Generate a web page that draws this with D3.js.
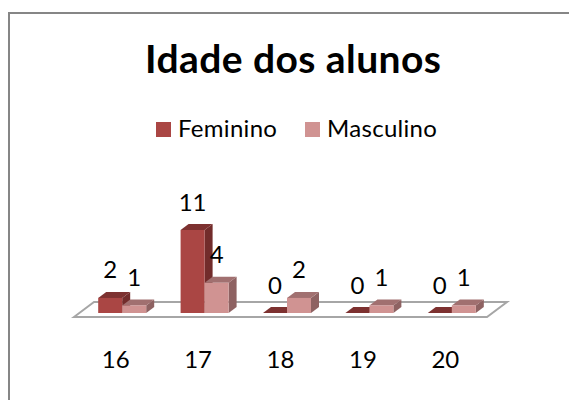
<!DOCTYPE html>
<html>
<head>
<meta charset="utf-8">
<script src="https://cdn.jsdelivr.net/npm/d3@7"></script>
<style>
  body { margin: 0; background: #fff; }
  svg { display: block; }
  text { font-family: Lato, "Open Sans", sans-serif; fill: #000; }
</style>
</head>
<body>
<svg></svg>
<script>
let width = 569
let height = 400

let ages = ['16', '17', '18', '19', '20']
let seriesNames = ['Feminino', 'Masculino']
let feminino = [2, 11, 0, 0, 0]
let masculino = [1, 4, 2, 1, 1]

let fills = ['#aa4644', '#d09392']
let tops = ['#7d3130', '#a17070']
let sides = ['#722c2b', '#8e6262']

let depthX = 8
let depthY = 6

let svg = d3.select('svg')
    .attr('width', width)
    .attr('height', height)

// the frame runs past the right and bottom edges of the picture
svg.append('rect')
    .attr('x', 9)
    .attr('y', 13)
    .attr('width', 600)
    .attr('height', 420)
    .attr('fill', '#fff')
    .attr('stroke', '#868686')
    .attr('stroke-width', 2)

svg.append('text')
    .attr('x', 293)
    .attr('y', 73)
    .attr('text-anchor', 'middle')
    .attr('font-size', 39)
    .attr('font-weight', 700)
    .attr('textLength', 296)
    .text('Idade dos alunos')

let legend = svg.append('g')
  .selectAll('g')
  .data(seriesNames)
  .enter()
  .append('g')
    .attr('transform', (d, i) => `translate(${[156, 305][i]}, 122)`)

legend.append('rect')
    .attr('width', 15)
    .attr('height', 15)
    .attr('fill', (d, i) => fills[i])

legend.append('text')
    .attr('x', 22)
    .attr('y', 15)
    .attr('font-size', 24)
    .attr('letter-spacing', 0.3)
    .text(d => d)

let x = d3.scaleBand()
    .domain(ages)
    .range([81, 493])

let inner = d3.scaleBand()
    .domain(seriesNames)
    .range([x.bandwidth() / 2 - 24, x.bandwidth() / 2 + 24])

let y = d3.scaleLinear()
    .domain([0, 11])
    .range([313, 230])

// floor of the 3d plot
svg.append('polygon')
    .attr('points', '74,317 94,302 507,302 487,317')
    .attr('fill', '#fff')
    .attr('stroke', '#a6a6a6')
    .attr('stroke-width', 2)

let bars = []
ages.forEach((age, i) => {
  bars.push({ age, name: seriesNames[0], s: 0, value: feminino[i] })
  bars.push({ age, name: seriesNames[1], s: 1, value: masculino[i] })
})

let bar = svg.append('g')
  .selectAll('g')
  .data(bars)
  .enter()
  .append('g')
    .attr('transform', d => `translate(${x(d.age) + inner(d.name)}, 0)`)

let w = inner.bandwidth()

bar.append('polygon')
    .attr('fill', d => sides[d.s])
    .attr('points', d => {
      let t = y(d.value), b = y(0)
      return [[w, t], [w + depthX, t - depthY], [w + depthX, b - depthY], [w, b]].join(' ')
    })

bar.append('polygon')
    .attr('fill', d => tops[d.s])
    .attr('points', d => {
      let t = y(d.value)
      return [[0, t], [depthX, t - depthY], [w + depthX, t - depthY], [w, t]].join(' ')
    })

bar.append('rect')
    .attr('y', d => y(d.value))
    .attr('width', w)
    .attr('height', d => y(0) - y(d.value))
    .attr('fill', d => fills[d.s])

// value labels sit above the back edge of each bar
svg.append('g')
  .selectAll('text')
  .data(bars)
  .enter()
  .append('text')
    .attr('x', d => x(d.age) + inner(d.name) + w / 2)
    .attr('y', d => y(d.value) - 19.5)
    .attr('text-anchor', 'middle')
    .attr('font-size', 24)
    .text(d => d.value)

svg.append('g')
  .selectAll('text')
  .data(ages)
  .enter()
  .append('text')
    .attr('x', d => x(d) + x.bandwidth() / 2 - 6.5)
    .attr('y', 368)
    .attr('text-anchor', 'middle')
    .attr('font-size', 24)
    .text(d => d)
</script>
</body>
</html>
